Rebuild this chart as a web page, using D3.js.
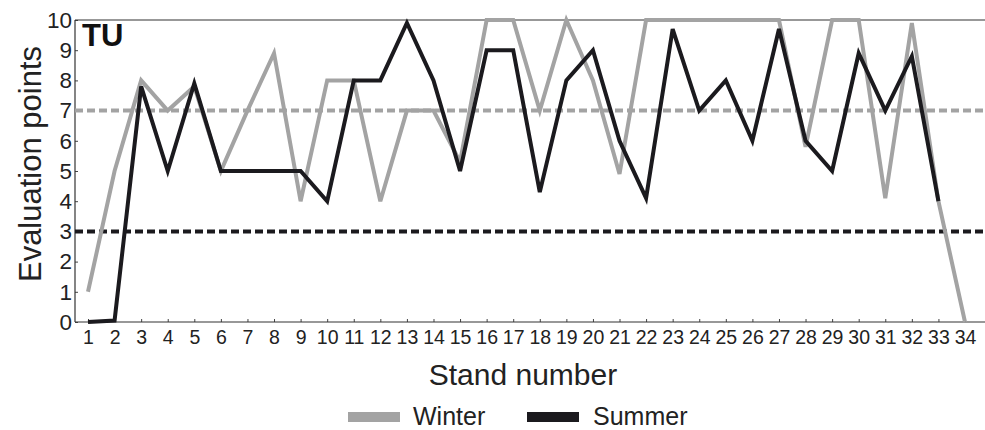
<!DOCTYPE html>
<html><head><meta charset="utf-8">
<script src="https://cdn.jsdelivr.net/npm/d3@7"></script>
<style>body{margin:0;background:#fff;}svg{display:block;font-family:"Liberation Sans",Arial,sans-serif;}</style>
</head><body>
<svg id="c" width="985" height="430"></svg>
<script>
const stands = d3.range(1, 35);
const winter = [1,5,8,7,7.8,5,7,8.9,4,8,8,4,7,7,5.3,10,10,7,10,8,4.9,10,10,10,10,10,10,5.8,10,10,4.1,9.9,4,0];
const summer = [0,0.05,7.8,5,7.9,5,5,5,5,4,8,8,9.9,8,5,9,9,4.3,8,9,6,4.1,9.7,7,8,6,9.7,6,5,8.9,7,8.8,4];
const yTicks = d3.range(0, 11);
const thresholds = [{v:7, c:"#a3a3a3"},{v:3, c:"#1b1a1e"}];
const seriesNames = ["Winter","Summer"];
const colors = {Winter:"#a3a3a3", Summer:"#1b1a1e"};

const svg = d3.select("#c");
const L = 75, R = 985, T = 20, B = 322;
const x = d3.scaleLinear().domain([1,34]).range([88,965]);
const y = d3.scaleLinear().domain([0,10]).range([B,T]);

// axes
const gx = svg.append("g").attr("transform",`translate(0,${B})`)
  .call(d3.axisBottom(x).tickValues(stands).tickFormat(d3.format("d")).tickSizeInner(-3).tickSizeOuter(0).tickPadding(8));
gx.select(".domain").remove();
gx.selectAll(".tick line").attr("stroke","#444");
gx.selectAll("text").attr("font-size",19.5).attr("fill","#222").attr("dy","0.72em");

const gy = svg.append("g").attr("transform",`translate(${L},0)`)
  .call(d3.axisLeft(y).tickValues(yTicks).tickSizeInner(-3).tickSizeOuter(0).tickPadding(3));
gy.select(".domain").remove();
gy.selectAll(".tick line").attr("stroke","#444");
gy.selectAll("text").attr("font-size",22.5).attr("fill","#222");

// frame lines
svg.append("line").attr("x1",L).attr("x2",R).attr("y1",B).attr("y2",B).attr("stroke","#333").attr("stroke-width",1.2);
svg.append("line").attr("x1",L).attr("x2",R).attr("y1",T).attr("y2",T).attr("stroke","#333").attr("stroke-width",1.2);
svg.append("line").attr("x1",L).attr("x2",L).attr("y1",T).attr("y2",B).attr("stroke","#333").attr("stroke-width",1.2);

// threshold dashed lines
thresholds.forEach(t => {
  svg.append("line").attr("x1",L).attr("x2",R).attr("y1",y(t.v)).attr("y2",y(t.v))
    .attr("stroke",t.c).attr("stroke-width",4).attr("stroke-dasharray","8,4");
});

const line = d3.line().x((d,i)=>x(stands[i])).y(d=>y(d));
svg.append("path").datum(winter).attr("d",line).attr("fill","none")
  .attr("stroke",colors.Winter).attr("stroke-width",4).attr("stroke-linejoin","miter");
svg.append("path").datum(summer).attr("d",line).attr("fill","none")
  .attr("stroke",colors.Summer).attr("stroke-width",4).attr("stroke-linejoin","miter");

// labels
svg.append("text").attr("x",82).attr("y",46).attr("font-size",31).attr("font-weight","bold").attr("fill","#111").text("TU");
svg.append("text").attr("transform",`translate(41,${(T+B)/2-7}) rotate(-90)`).attr("text-anchor","middle")
  .attr("font-size",31).attr("fill","#222").text("Evaluation points");
svg.append("text").attr("x",523).attr("y",385).attr("text-anchor","middle").attr("font-size",30).attr("fill","#222").text("Stand number");

// legend
const leg = [{n:"Winter", sx:348, tx:413},{n:"Summer", sx:527, tx:593}];
leg.forEach(l => {
  svg.append("rect").attr("x",l.sx).attr("y",412).attr("width",52).attr("height",10).attr("fill",colors[l.n]);
  svg.append("text").attr("x",l.tx).attr("y",425).attr("font-size",25).attr("fill","#222").text(l.n);
});
</script>
</body></html>
